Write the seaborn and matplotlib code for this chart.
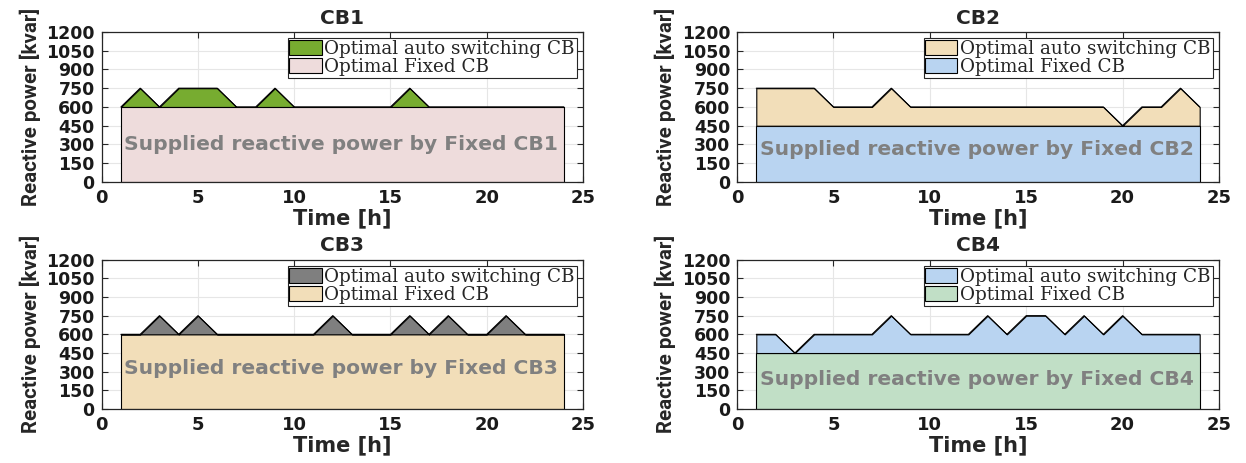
import matplotlib
matplotlib.use("Agg")
import matplotlib.pyplot as plt
import seaborn as sns
import pandas as pd

# Hourly reactive power of each capacitor bank [kvar]
hours = list(range(1, 25))

cb1_auto = [600, 750, 600, 750, 750, 750, 600, 600, 750, 600, 600, 600,
            600, 600, 600, 750, 600, 600, 600, 600, 600, 600, 600, 600]
cb1_fixed = [600] * 24

cb2_auto = [750, 750, 750, 750, 600, 600, 600, 750, 600, 600, 600, 600,
            600, 600, 600, 600, 600, 600, 600, 450, 600, 600, 750, 600]
cb2_fixed = [450] * 24

cb3_auto = [600, 600, 750, 600, 750, 600, 600, 600, 600, 600, 600, 750,
            600, 600, 600, 750, 600, 750, 600, 600, 750, 600, 600, 600]
cb3_fixed = [600] * 24

cb4_auto = [600, 600, 450, 600, 600, 600, 600, 750, 600, 600, 600, 600,
            750, 600, 750, 750, 600, 750, 600, 750, 600, 600, 600, 600]
cb4_fixed = [450] * 24

titles = ["CB1", "CB2", "CB3", "CB4"]
legend_labels = ["Optimal auto switching CB", "Optimal Fixed CB"]
x_ticks = [0, 5, 10, 15, 20, 25]
y_ticks = [0, 150, 300, 450, 600, 750, 900, 1050, 1200]

sns.set_theme(style="whitegrid")
plt.rcParams["font.family"] = ["DejaVu Sans"]

GREEN = "#77AC30"
PINK = "#EEDCDC"
WHEAT = "#F2DEB9"
BLUE = "#B9D4F1"
MINT = "#C1DFC6"
GRAY = "#7F7F7F"

panels = [
    (cb1_auto, cb1_fixed, GREEN, PINK, 300),
    (cb2_auto, cb2_fixed, WHEAT, BLUE, 258),
    (cb3_auto, cb3_fixed, GRAY, WHEAT, 328),
    (cb4_auto, cb4_fixed, BLUE, MINT, 235),
]

fig = plt.figure(figsize=(12.46, 4.63), dpi=100)
positions = [
    [0.0816, 0.607, 0.3863, 0.324],
    [0.5915, 0.607, 0.3868, 0.324],
    [0.0816, 0.1166, 0.3863, 0.3225],
    [0.5915, 0.1166, 0.3868, 0.3225],
]

for i, (auto, fixed, c_auto, c_fixed, text_y) in enumerate(panels):
    ax = fig.add_axes(positions[i])
    df = pd.DataFrame({"hour": hours, "auto": auto, "fixed": fixed})

    fixed_poly = ax.fill_between(df["hour"], 0, df["fixed"], facecolor=c_fixed,
                                 edgecolor="black", linewidth=0.8, zorder=2)
    auto_poly = ax.fill_between(df["hour"], df["fixed"], df["auto"], facecolor=c_auto,
                                edgecolor="black", linewidth=0.8, zorder=3)
    sns.lineplot(data=df, x="hour", y="auto", color="black", linewidth=0.8,
                 ax=ax, zorder=4)

    ax.text(12.45, text_y, f"Supplied reactive power by Fixed {titles[i]}",
            ha="center", va="center", color="#808080", fontsize=14.6,
            fontweight="bold", zorder=5)

    ax.set_xlim(0, 25)
    ax.set_ylim(0, 1200)
    ax.set_xticks(x_ticks)
    ax.set_yticks(y_ticks)
    ax.set_xticklabels([str(t) for t in x_ticks], fontsize=13, fontweight="bold")
    ax.set_yticklabels([str(t) for t in y_ticks], fontsize=12.5, fontweight="bold")
    ax.set_xlabel("Time [h]", fontsize=15, fontweight="bold", labelpad=1)
    ax.set_ylabel("Reactive power [kvar]", fontsize=14.8, fontweight="bold",
                  family=["Liberation Sans Narrow", "Roboto", "DejaVu Sans"],
                  labelpad=4)
    ax.set_title(titles[i], fontsize=14.5, fontweight="bold", pad=6)

    ax.set_facecolor("white")
    ax.set_axisbelow(True)
    ax.grid(True, color="#E6E6E6", linewidth=0.8)
    for sp in ax.spines.values():
        sp.set_color("#262626")
        sp.set_linewidth(0.9)
    ax.tick_params(direction="in", length=4, width=0.8, color="#262626",
                   top=True, right=True, bottom=True, left=True,
                   labelcolor="#1a1a1a", pad=5)

    leg = ax.legend([auto_poly, fixed_poly], legend_labels, loc="upper right",
                    prop={"family": "DejaVu Serif", "size": 13.2},
                    frameon=True, fancybox=False, framealpha=1,
                    edgecolor="#262626", borderpad=0.1, labelspacing=0.0,
                    handlelength=1.75, handleheight=0.9, handletextpad=0.15,
                    borderaxespad=0.35)
    leg.get_frame().set_linewidth(0.8)

fig.savefig("out.png", dpi=100)
